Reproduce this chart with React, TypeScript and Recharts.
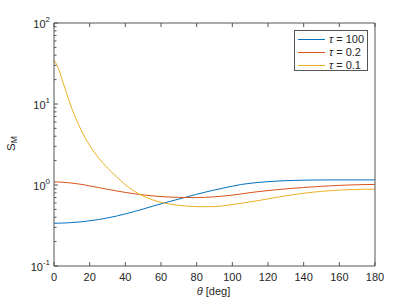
import { LineChart, Line, XAxis, YAxis, Legend } from "recharts";

// theta in degrees
const theta = [
  0, 2.5, 5, 7.5, 10, 12.5, 15, 17.5, 20, 25, 30, 35, 40, 45, 50, 55, 60, 65,
  70, 75, 80, 85, 90, 95, 100, 105, 110, 115, 120, 125, 130, 135, 140, 145,
  150, 155, 160, 165, 170, 175, 180,
];

// S_M for tau = 100
const sTau100 = [
  0.337, 0.338, 0.339, 0.341, 0.344, 0.347, 0.351, 0.356, 0.362, 0.375, 0.392,
  0.413, 0.44, 0.47, 0.505, 0.545, 0.585, 0.627, 0.67, 0.718, 0.768, 0.818,
  0.868, 0.918, 0.965, 1.015, 1.05, 1.078, 1.1, 1.118, 1.13, 1.14, 1.147,
  1.151, 1.154, 1.155, 1.156, 1.156, 1.156, 1.156, 1.156,
];

// S_M for tau = 0.2
const sTau02 = [
  1.09, 1.088, 1.08, 1.07, 1.055, 1.04, 1.02, 1.0, 0.975, 0.93, 0.885, 0.845,
  0.81, 0.78, 0.755, 0.735, 0.72, 0.71, 0.703, 0.7, 0.7, 0.705, 0.715, 0.73,
  0.75, 0.775, 0.805, 0.83, 0.853, 0.875, 0.895, 0.914, 0.932, 0.948, 0.963,
  0.977, 0.989, 0.999, 1.007, 1.013, 1.016,
];

// S_M for tau = 0.1
const sTau01 = [
  35, 27.5, 18.6, 12.7, 8.8, 6.47, 4.88, 3.81, 3.08, 2.16, 1.62, 1.27, 1.01,
  0.839, 0.731, 0.659, 0.612, 0.581, 0.561, 0.548, 0.541, 0.539, 0.542, 0.553,
  0.572, 0.595, 0.62, 0.645, 0.675, 0.705, 0.735, 0.765, 0.79, 0.815, 0.835,
  0.852, 0.865, 0.875, 0.882, 0.886, 0.888,
];

const seriesKeys = ["s0", "s1", "s2"];
const seriesNames = ["100", "0.2", "0.1"];
const seriesColors = ["#0072BD", "#D95319", "#EDB120"];

const xTicks = [0, 20, 40, 60, 80, 100, 120, 140, 160, 180];
const yTicks = [
  0.1, 0.2, 0.3, 0.4, 0.5, 0.6, 0.7, 0.8, 0.9, 1, 2, 3, 4, 5, 6, 7, 8, 9, 10,
  20, 30, 40, 50, 60, 70, 80, 90, 100,
];

const data = theta.map((t, i) => ({
  theta: t,
  s0: sTau100[i],
  s1: sTau02[i],
  s2: sTau01[i],
}));

const AXIS = "#555555";
const TEXT = "#262626";
const FONT = "'Liberation Sans', Arial, Helvetica, sans-serif";

const isDecade = (v: number) =>
  Math.abs(Math.log10(v) - Math.round(Math.log10(v))) < 1e-6;

function BottomTick(props: any) {
  const { x, y, payload } = props;
  return (
    <g>
      <line x1={x} x2={x} y1={y} y2={y - 4} stroke={AXIS} />
      <text x={x} y={y + 15} textAnchor="middle" fontSize={11} fill={TEXT} fontFamily={FONT}>
        {payload.value}
      </text>
    </g>
  );
}

function TopTick(props: any) {
  const { x, y } = props;
  return <line x1={x} x2={x} y1={y} y2={y + 4} stroke={AXIS} />;
}

function LeftTick(props: any) {
  const { x, y, payload } = props;
  const major = isDecade(payload.value);
  const exp = Math.round(Math.log10(payload.value));
  return (
    <g>
      <line x1={x} x2={x + (major ? 4 : 2.5)} y1={y} y2={y} stroke={AXIS} />
      {major && (
        <text x={x - 4} y={y + 5} textAnchor="end" fontSize={11} fill={TEXT} fontFamily={FONT}>
          <tspan>10</tspan>
          <tspan dy={-6} fontSize={8}>
            {exp}
          </tspan>
        </text>
      )}
    </g>
  );
}

function RightTick(props: any) {
  const { x, y, payload } = props;
  const major = isDecade(payload.value);
  return <line x1={x} x2={x - (major ? 4 : 2.5)} y1={y} y2={y} stroke={AXIS} />;
}

function LegendBox(props: any) {
  const payload = [...(props.payload || [])].sort(
    (a: any, b: any) => seriesKeys.indexOf(a.dataKey) - seriesKeys.indexOf(b.dataKey)
  );
  return (
    <div
      style={{
        width: 72,
        height: 39,
        border: `1px solid ${AXIS}`,
        background: "#fff",
        position: "relative",
        fontFamily: FONT,
        fontSize: 11,
        color: TEXT,
      }}
    >
      {payload.map((p: any, i: number) => {
        const idx = seriesKeys.indexOf(p.dataKey);
        return (
          <div
            key={i}
            style={{
              position: "absolute",
              left: 3,
              top: 2 + i * 13,
              height: 13,
              display: "flex",
              alignItems: "center",
              whiteSpace: "nowrap",
            }}
          >
            <svg width={27} height={13} style={{ display: "block" }}>
              <line x1={0} x2={27} y1={6.5} y2={6.5} stroke={seriesColors[idx]} strokeWidth={1} />
            </svg>
            <span style={{ marginLeft: 4, lineHeight: "13px" }}>
              <i>τ</i> = {seriesNames[idx]}
            </span>
          </div>
        );
      })}
    </div>
  );
}

export default function App() {
  return (
    <div style={{ position: "absolute", left: 0, top: 0, background: "#fff" }}>
      <LineChart
        width={415}
        height={301}
        data={data}
        margin={{ top: 22, right: 39, bottom: 0, left: 0 }}
      >
        <XAxis
          xAxisId="x"
          dataKey="theta"
          type="number"
          domain={[0, 180]}
          ticks={xTicks}
          interval={0}
          height={35}
          tickSize={0}
          tickMargin={0}
          axisLine={{ stroke: AXIS }}
          tick={BottomTick}
          label={{
            content: ({ viewBox }: any) => (
              <text
                x={viewBox.x + viewBox.width / 2 - 1}
                y={viewBox.y + 29}
                textAnchor="middle"
                fontSize={11}
                fill={TEXT}
                fontFamily={FONT}
              >
                <tspan fontStyle="italic">θ</tspan>
                <tspan> [deg]</tspan>
              </text>
            ),
          }}
        />
        <XAxis
          xAxisId="top"
          orientation="top"
          dataKey="theta"
          type="number"
          domain={[0, 180]}
          ticks={xTicks}
          interval={0}
          height={1}
          tickSize={0}
          tickMargin={0}
          axisLine={{ stroke: AXIS }}
          tick={TopTick}
        />
        <YAxis
          yAxisId="log"
          type="number"
          scale="log"
          domain={[0.1, 100]}
          ticks={yTicks}
          interval={0}
          width={54}
          tickSize={0}
          tickMargin={0}
          axisLine={{ stroke: AXIS }}
          tick={LeftTick}
          label={{
            content: ({ viewBox }: any) => {
              const cx = 15;
              const cy = viewBox.y + viewBox.height / 2 - 1;
              return (
                <text
                  x={cx}
                  y={cy}
                  transform={`rotate(-90 ${cx} ${cy})`}
                  textAnchor="middle"
                  fontSize={11.5}
                  fill={TEXT}
                  fontFamily={FONT}
                >
                  <tspan>S</tspan>
                  <tspan dy={2} fontSize={8.5}>
                    M
                  </tspan>
                </text>
              );
            },
          }}
        />
        <YAxis
          yAxisId="logR"
          orientation="right"
          type="number"
          scale="log"
          domain={[0.1, 100]}
          ticks={yTicks}
          interval={0}
          width={1}
          tickSize={0}
          tickMargin={0}
          axisLine={{ stroke: AXIS }}
          tick={RightTick}
        />
        <Legend
          layout="vertical"
          align="center"
          verticalAlign="middle"
          content={LegendBox}
          wrapperStyle={{ left: 294, top: 30, width: 74, height: 41 }}
        />
        {seriesKeys.map((key, i) => (
          <Line
            key={key}
            xAxisId="x"
            yAxisId="log"
            dataKey={key}
            name={`τ = ${seriesNames[i]}`}
            type="monotone"
            stroke={seriesColors[i]}
            strokeWidth={1}
            dot={false}
            activeDot={false}
            isAnimationActive={false}
          />
        ))}
      </LineChart>
    </div>
  );
}
